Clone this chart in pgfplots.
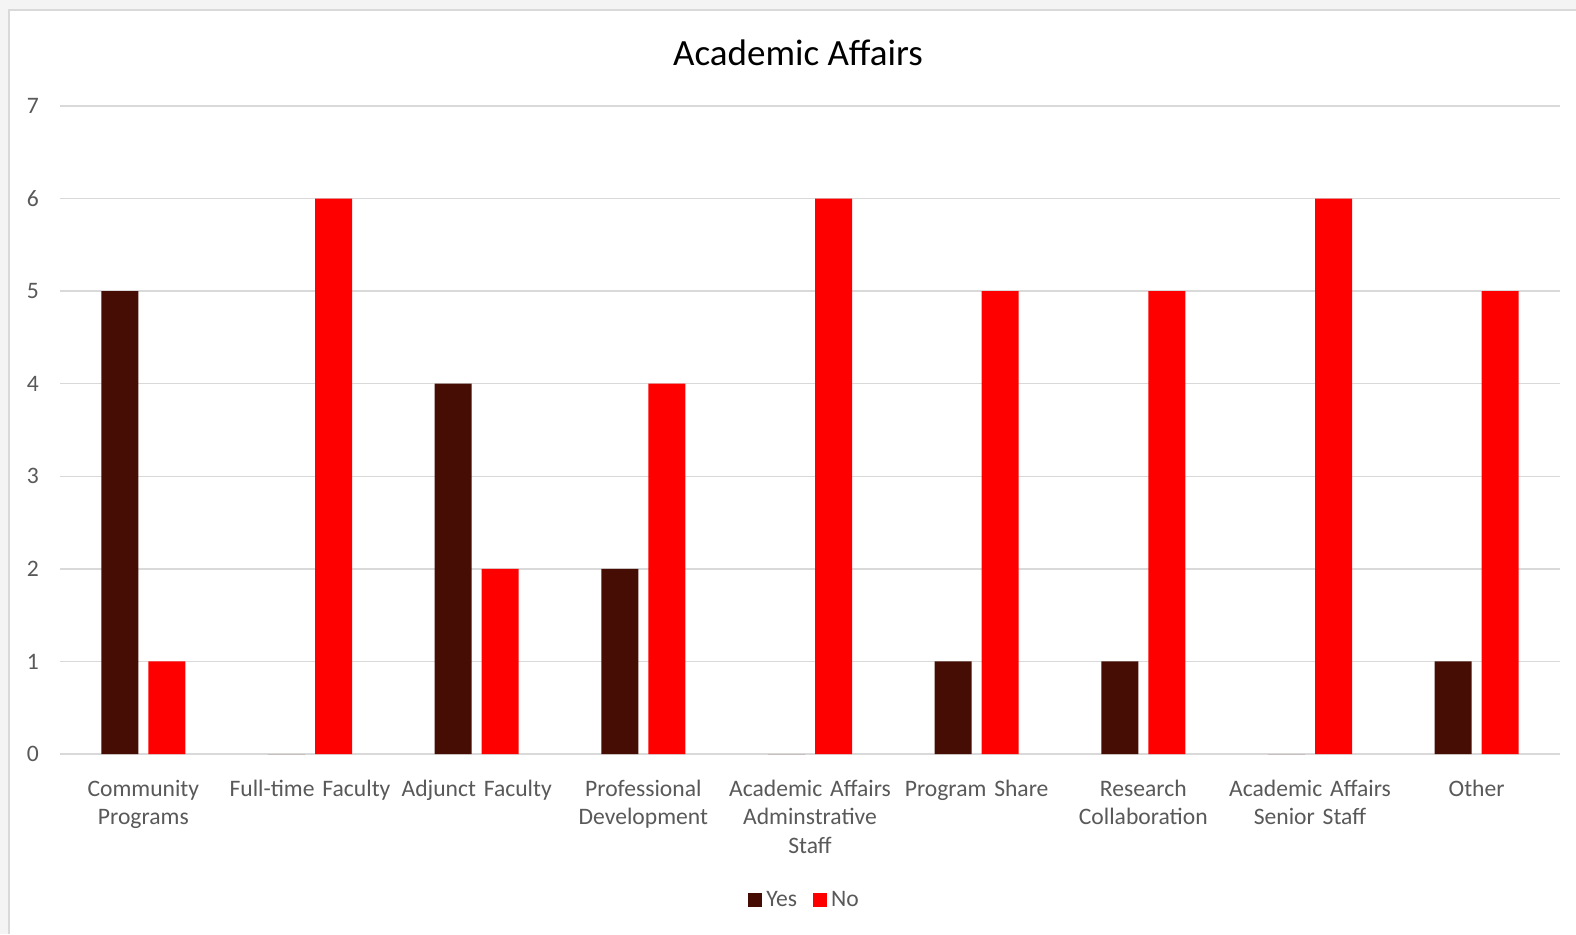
\documentclass[border=0pt]{standalone}
\usepackage{pgfplots}
\pgfplotsset{compat=1.18}
\usepackage{fontspec}
\setmainfont{Carlito}
\definecolor{yescol}{HTML}{450D04}
\definecolor{nocol}{HTML}{FF0000}
\definecolor{gridc}{HTML}{D9D9D9}
\definecolor{txtc}{HTML}{595959}
\definecolor{outc}{HTML}{F4F4F4}
\begin{document}
\begin{tikzpicture}
\useasboundingbox (0pt,0pt) rectangle (788pt,467pt);
\fill[outc] (0pt,0pt) rectangle (788pt,467pt);
\fill[white] (4.5pt,0pt) rectangle (788pt,462pt);
\draw[gridc,line width=1pt] (4.5pt,0pt) -- (4.5pt,462pt) -- (788pt,462pt);
\node[font=\fontsize{18.5}{22}\selectfont, text=black] at (399pt,440.5pt) {Academic Affairs};
\begin{axis}[
  at={(30pt,90pt)}, anchor=south west,
  scale only axis, width=750pt, height=324pt,
  xmin=-0.5, xmax=8.5, ymin=0, ymax=7,
  ytick={0,...,7},
  xtick={0,...,8},
  xticklabels={Community\\Programs, Full-time Faculty, Adjunct Faculty, Professional\\Development, Academic Affairs\\Adminstrative\\Staff, Program Share, Research\\Collaboration, Academic Affairs\\Senior Staff, Other},
  xticklabel style={align=center, text width=90pt, font=\fontsize{11.8}{14.2}\selectfont, text=txtc, yshift=-9.5pt},
  yticklabel style={font=\fontsize{11.8}{14.2}\selectfont, text=txtc, xshift=-7pt},
  /pgf/number format/assume math mode=true,
  major tick length=0pt,
  axis line style={draw=none},
  ymajorgrids, grid style={gridc, line width=0.75pt},
  legend style={at={(0.497,-0.226)}, anchor=center, draw=none, legend columns=2, font=\fontsize{11.8}{14.2}\selectfont, text=txtc, /tikz/every even column/.append style={column sep=6pt}},
  legend image code/.code={\fill[#1] (0pt,-3.5pt) rectangle (7pt,3.5pt);},
  clip=false,
]
\addplot[ybar, bar width=18.5pt, bar shift=-11.75pt, fill=yescol, draw=none] coordinates {(0,5) (1,0) (2,4) (3,2) (4,0) (5,1) (6,1) (7,0) (8,1)};
\addlegendentry{Yes}
\addplot[ybar, bar width=18.5pt, bar shift=11.75pt, fill=nocol, draw=none] coordinates {(0,1) (1,6) (2,2) (3,4) (4,6) (5,5) (6,5) (7,6) (8,5)};
\addlegendentry{No}
\end{axis}
\end{tikzpicture}
\end{document}
